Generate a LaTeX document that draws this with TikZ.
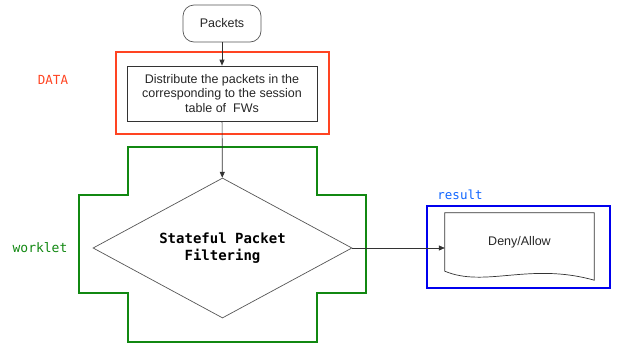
\documentclass[tikz,border=0pt]{standalone}
\usepackage{fontspec}
\setmainfont{Liberation Sans}
\newfontfamily\monof{DejaVu Sans Mono}
\usetikzlibrary{shapes.geometric,arrows.meta}
\definecolor{dred}{HTML}{FF4422}
\definecolor{dgreen}{HTML}{118811}
\definecolor{dblue}{HTML}{0000EE}
\definecolor{lblue}{HTML}{1166FF}
\definecolor{lgray}{HTML}{555555}
\tikzset{
  body/.style={font=\fontsize{12.5}{14.5}\selectfont, text=black!85},
  frame/.style={line width=2pt},
  conn/.style={draw=black!80, line width=0.7pt, -{Triangle[length=6pt,width=5pt]}},
  lbl/.style={font=\monof\fontsize{12.5}{14}\selectfont},
}
\begin{document}
\begin{tikzpicture}[x=1pt,y=-1pt]
\useasboundingbox (0,0) rectangle (617,343);
% frames
\draw[frame, draw=dred] (116,52) rectangle (329,134);
\draw[frame, draw=dgreen] (128,147) -- (317,147) -- (317,195) -- (366,195) -- (366,293) -- (317,293) -- (317,342) -- (128,342) -- (128,293) -- (79,293) -- (79,195) -- (128,195) -- cycle;
\draw[frame, draw=dblue] (427,206) rectangle (610,288);
% labels
\node[lbl, text=dred] (ldata) at (53,80) {DATA};
\node[lbl, text=dgreen, font=\monof\fontsize{13}{14}\selectfont] (lwork) at (40,248) {worklet};
\node[lbl, text=lblue] (lres) at (460,195) {result};
% nodes
\node[body, draw=lgray, line width=0.7pt, rounded corners=11pt, minimum width=78pt, minimum height=37pt] (packets) at (222,23.5) {Packets};
\node[body, draw=black!80, line width=0.7pt, minimum width=190pt, minimum height=55pt, align=center] (dist) at (222,93.5) {Distribute the packets in the\\corresponding to the session\\table of \ FWs};
\node[diamond, aspect=1.85, draw=lgray, line width=0.7pt, minimum width=259pt, minimum height=140pt, inner sep=0pt, align=center, font=\monof\bfseries\fontsize{14}{17}\selectfont] (filt) at (222.5,248) {Stateful Packet\\Filtering};
\node[body, minimum width=149pt, minimum height=58pt, inner sep=0pt] (doc) at (519.5,242) {Deny/Allow};
\draw[draw=black!80, line width=0.7pt] (doc.north west) -- (doc.north east) -- ([yshift=-9pt]doc.south east) .. controls (530,262) and (485,288) .. (doc.south west) -- cycle;
\coordinate (docin) at (doc.west |- filt.east);
% connectors
\draw[conn] (packets) -- (dist);
\draw[conn] (dist) -- (filt);
\draw[conn] (filt.east) -- (docin);
\end{tikzpicture}
\end{document}
